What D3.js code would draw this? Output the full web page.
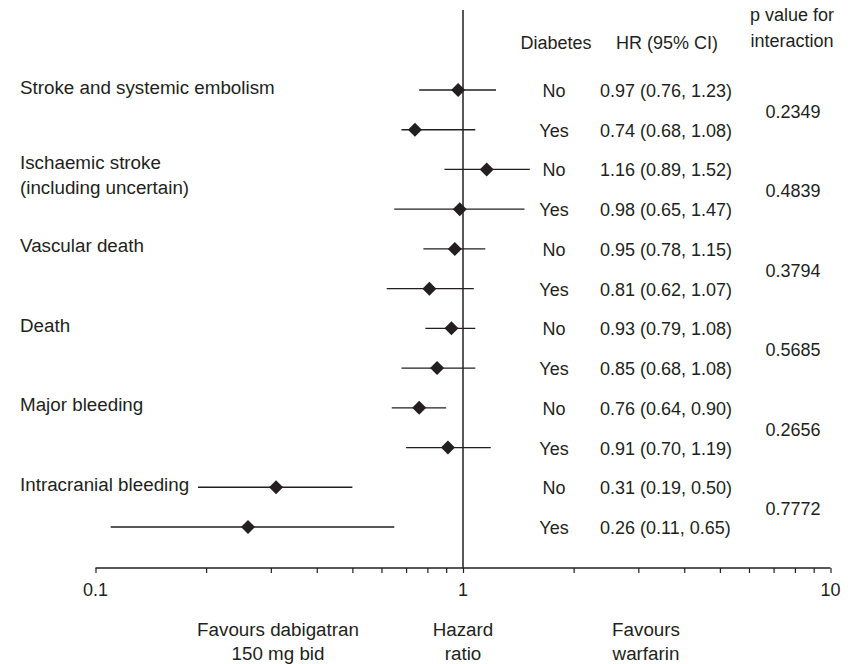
<!DOCTYPE html>
<html>
<head>
<meta charset="utf-8">
<script src="https://cdn.jsdelivr.net/npm/d3@7"></script>
<style>
  html, body { margin: 0; padding: 0; background: #fff; }
  svg text { font-family: "Liberation Sans", Arial, Helvetica, sans-serif; fill: #231f20; }
</style>
</head>
<body>
<svg id="chart" width="854" height="664"></svg>
<script>
// Outcomes, each with two diabetes subgroups (No / Yes)
const outcomes = [
  ["Stroke and systemic embolism"],
  ["Ischaemic stroke", "(including uncertain)"],
  ["Vascular death"],
  ["Death"],
  ["Major bleeding"],
  ["Intracranial bleeding"]
];
const subgroups = ["No", "Yes"];
// Hazard ratios and 95% CI per row (outcome x subgroup, in order)
const hr    = [0.97, 0.74, 1.16, 0.98, 0.95, 0.81, 0.93, 0.85, 0.76, 0.91, 0.31, 0.26];
const lower = [0.76, 0.68, 0.89, 0.65, 0.78, 0.62, 0.79, 0.68, 0.64, 0.70, 0.19, 0.11];
const upper = [1.23, 1.08, 1.52, 1.47, 1.15, 1.07, 1.08, 1.08, 0.90, 1.19, 0.50, 0.65];
const pInteraction = ["0.2349", "0.4839", "0.3794", "0.5685", "0.2656", "0.7772"];
const tickValues = [0.1, 1, 10];
const tickLabels = ["0.1", "1", "10"];

const fmt = v => v.toFixed(2);
const rows = hr.map((h, i) => ({
  id: i,
  outcome: Math.floor(i / 2),
  group: subgroups[i % 2],
  hr: h, lo: lower[i], hi: upper[i],
  text: `${fmt(h)} (${fmt(lower[i])}, ${fmt(upper[i])})`
}));

const svg = d3.select("#chart");
const ink = "#231f20";
const fs = 18;
const fsLabel = 18.8;

const x = d3.scaleLog().domain([0.1, 10]).range([95.5, 830.5]);
const y = d3.scalePoint().domain(rows.map(r => r.id)).range([90, 527]);
const axisY = 568;

// Line of no effect
svg.append("line")
  .attr("x1", x(1)).attr("x2", x(1))
  .attr("y1", 10).attr("y2", axisY)
  .attr("stroke", ink).attr("stroke-width", 1.5);

// Log axis with minor ticks
const minor = [];
for (let d = 0.1; d < 10; d *= 10) for (let k = 1; k <= 10; k++) minor.push(+(d * k).toPrecision(3));
const axis = d3.axisBottom(x).tickValues(Array.from(new Set(minor))).tickSize(5).tickFormat("");
const gAxis = svg.append("g").attr("transform", `translate(0,${axisY})`).call(axis);
gAxis.select(".domain").attr("stroke", ink).attr("stroke-width", 1.5).attr("d", `M${x(0.1)},0H${x(10)}`);
gAxis.selectAll(".tick line").attr("stroke", ink).attr("stroke-width", 1.2);

svg.append("g").selectAll("text").data(tickValues).join("text")
  .attr("x", d => x(d)).attr("y", 590)
  .attr("text-anchor", "middle").attr("dominant-baseline", "central")
  .attr("font-size", fs)
  .text((d, i) => tickLabels[i]);

// Confidence intervals and point estimates
const gMarks = svg.append("g");
gMarks.selectAll("line").data(rows).join("line")
  .attr("x1", d => x(d.lo)).attr("x2", d => x(d.hi))
  .attr("y1", d => y(d.id)).attr("y2", d => y(d.id))
  .attr("stroke", ink).attr("stroke-width", 1.3);
gMarks.selectAll("path").data(rows).join("path")
  .attr("transform", d => `translate(${x(d.hr)},${y(d.id)})`)
  .attr("d", "M0,-7L7,0L0,7L-7,0Z")
  .attr("fill", ink);

// Outcome labels
const gLab = svg.append("g");
outcomes.forEach((lines, i) => {
  const y0 = y(i * 2);
  const t = gLab.append("text").attr("font-size", fsLabel).attr("x", 20);
  lines.forEach((s, j) => {
    t.append("tspan").attr("x", 20)
      .attr("y", lines.length > 1 ? y0 - 7 + j * 25 : y0 - 3)
      .attr("dominant-baseline", "central").text(s);
  });
});

// Subgroup and HR text columns
svg.append("g").selectAll("text").data(rows).join("text")
  .attr("x", 554).attr("y", d => y(d.id) + 1)
  .attr("text-anchor", "middle").attr("dominant-baseline", "central")
  .attr("font-size", fs).text(d => d.group);
svg.append("g").selectAll("text").data(rows).join("text")
  .attr("x", 600).attr("y", d => y(d.id) + 1)
  .attr("dominant-baseline", "central")
  .attr("font-size", fs).text(d => d.text);

// Interaction p values
svg.append("g").selectAll("text").data(pInteraction).join("text")
  .attr("x", 793).attr("y", (d, i) => (y(i * 2) + y(i * 2 + 1)) / 2 + 2)
  .attr("text-anchor", "middle").attr("dominant-baseline", "central")
  .attr("font-size", fs).text(d => d);

// Column headers
const hdr = [
  { t: "Diabetes", x: 556, y: 43 },
  { t: "HR (95% CI)", x: 667, y: 43 },
  { t: "p value for", x: 792, y: 15 },
  { t: "interaction", x: 792, y: 41 }
];
svg.append("g").selectAll("text").data(hdr).join("text")
  .attr("x", d => d.x).attr("y", d => d.y)
  .attr("text-anchor", "middle").attr("dominant-baseline", "central")
  .attr("font-size", fs).text(d => d.t);

// Bottom captions
const cap = [
  { lines: ["Favours dabigatran", "150 mg bid"], x: 278 },
  { lines: ["Hazard", "ratio"], x: 463 },
  { lines: ["Favours", "warfarin"], x: 646 }
];
cap.forEach(c => {
  c.lines.forEach((s, j) => {
    svg.append("text").attr("x", c.x).attr("y", 629 + j * 24)
      .attr("text-anchor", "middle").attr("dominant-baseline", "central")
      .attr("font-size", fsLabel).text(s);
  });
});
</script>
</body>
</html>
